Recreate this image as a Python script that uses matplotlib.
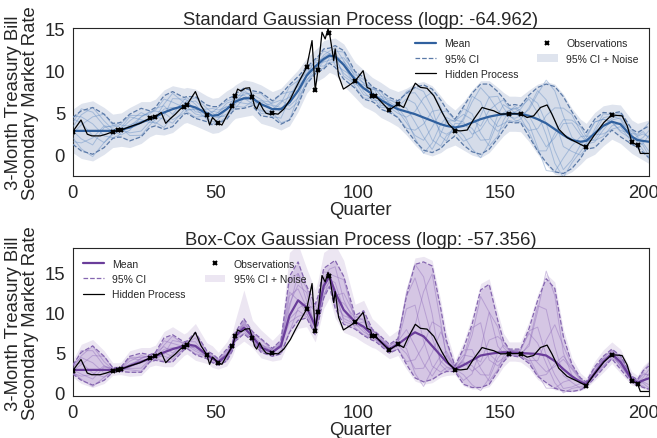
import numpy as np
import matplotlib
matplotlib.use("Agg")
import matplotlib.pyplot as plt
import seaborn as sns

knots = [0, 3, 7, 11, 14, 16, 17, 20, 24, 27, 29, 32, 35, 39, 40,
         43, 47, 49, 51, 54, 56, 57, 60, 63, 66, 70, 73, 76, 79, 82,
         85, 86, 88, 90, 92, 95, 99, 102, 105, 106, 108, 111, 114, 117, 120,
         123, 126, 129, 131, 134, 137, 140, 143, 146, 149, 151, 153, 155, 157, 160,
         163, 166, 169, 172, 175, 178, 180, 183, 186, 189, 192, 196, 198, 200, 202]

# observations
obs_x = [0, 14, 16, 17, 27, 29, 39, 40, 47, 51, 56, 57, 63, 70, 82, 85, 86, 90,
         99, 105, 106, 111, 114, 134, 153, 157, 180, 189, 196, 198]
obs_y = [2.7, 2.7, 2.85, 2.9, 4.3, 4.5, 5.7, 5.9, 4.7, 3.7, 5.8, 7.0, 6.8, 4.9,
         10.4, 7.7, 10.1, 14.5, 8.76, 7.0, 7.0, 5.3, 6.0, 2.84, 4.84, 4.84,
         0.84, 4.7, 1.44, 1.08]

# hidden process (traced)
hidden_x = [0, 2.9, 5.1, 6.7, 9.6, 11.7, 14, 16, 17, 20, 23.6, 27, 29, 31, 32.6,
            34, 36, 37.7, 39, 40, 43, 45, 47, 48, 49, 51, 52.3, 54, 56, 57,
            57.8, 59, 60.5, 62, 63, 63.7, 64.5, 65.5, 66.7, 67.8, 69, 70, 72, 74,
            76.3, 78, 79.8, 82, 83.9, 85, 86, 87.4, 88.5, 89.5, 90, 90.9, 91.5,
            92, 93.2, 94.9, 96.7, 99, 101.8, 103.2, 104.4, 105, 106, 107.8, 110,
            111, 114, 116, 117.8, 120.1, 121.9, 124.2, 126.6, 129.5, 131.8, 134,
            136, 138.3, 140.6, 143.5, 145.4, 147.6, 150, 153, 157, 159.3, 161.6,
            164, 166.3, 168, 170.4, 173.3, 176.8, 180, 182.7, 186.2, 189, 192.6,
            194.4, 196, 198, 199, 202]
hidden_y = [2.7, 4.1, 2.4, 2.2, 2.2, 2.4, 2.7, 2.85, 2.9, 3.3, 3.7, 4.3, 4.5, 5.0, 3.7,
            4.2, 4.8, 5.4, 5.7, 5.9, 7.5, 5.8, 4.7, 3.5, 4.4, 3.7, 3.5, 4.6, 5.8, 7.0,
            7.8, 7.56, 7.9, 7.96, 6.8, 5.8, 5.4, 6.2, 5.4, 4.9, 4.8, 4.9, 4.8, 5.4,
            6.6, 7.8, 9.0, 10.4, 13.6, 7.7, 10.1, 14.6, 13.8, 15.0, 14.5, 12.6, 11.2,
            12.6, 9.4, 7.8, 8.2, 8.76, 10.0, 8.0, 7.8, 7.0, 7.0, 6.4, 5.6,
            5.3, 6.0, 5.6, 7.0, 8.5, 8.0, 7.9, 7.0, 5.0, 3.6, 2.84,
            2.8, 2.9, 4.2, 5.6, 5.4, 5.2, 4.8, 4.84, 4.84, 4.4, 4.6,
            5.6, 5.9, 4.8, 3.0, 2.0, 1.4, 0.84, 2.2, 3.8, 4.7, 4.6,
            3.4, 1.44, 1.08, 0.1, 0.1]

# standard GP
std_mean = [2.8, 2.8, 2.8, 2.8, 2.8, 2.9, 2.95, 3.2, 3.8, 4.2, 4.5, 5.0, 5.4, 5.8, 5.9,
            5.6, 4.9, 4.6, 4.7, 5.4, 6.0, 6.3, 6.7, 6.7, 6.0, 5.4, 5.4, 6.2, 7.6, 9.4,
            10.5, 10.8, 11.4, 11.8, 11.7, 10.7, 8.9, 7.9, 7.2, 7.0, 6.5, 5.9, 5.4, 5.1, 4.8,
            4.4, 4.0, 3.6, 3.4, 3.2, 3.4, 3.8, 4.2, 4.5, 4.7, 4.8, 4.85, 4.85, 4.8, 4.6,
            4.2, 3.7, 3.0, 2.3, 1.7, 1.5, 1.6, 2.5, 3.4, 3.9, 3.6, 2.1, 1.7, 1.6, 1.5]
std_ci = [1.6, 2.4, 2.8, 2.0, 0.9, 0.85, 0.9, 1.6, 1.7, 1.0, 1.1, 2.0, 2.1, 1.0, 1.0,
          1.3, 1.0, 1.1, 1.0, 1.2, 0.9, 0.9, 1.2, 0.9, 1.4, 1.0, 1.8, 2.1, 1.7, 1.0,
          0.9, 0.9, 1.2, 0.9, 1.3, 1.7, 1.0, 1.3, 0.9, 0.9, 1.1, 0.9, 1.0, 2.2, 3.2,
          3.9, 3.8, 2.9, 2.0, 1.0, 2.3, 3.5, 4.2, 3.9, 2.8, 1.9, 1.0, 1.1, 1.0, 2.5,
          3.8, 4.7, 5.1, 4.6, 3.4, 2.0, 1.0, 1.7, 1.6, 1.0, 1.5, 0.9, 0.9, 1.4, 1.9]
std_noise = [2.6, 3.3, 3.6, 2.8, 2.0, 2.0, 2.0, 2.4, 2.5, 2.1, 2.1, 2.7, 2.8, 2.1, 2.1,
             2.2, 2.1, 2.1, 2.1, 2.2, 2.0, 2.0, 2.2, 2.0, 2.3, 2.1, 2.5, 2.8, 2.5, 2.1,
             2.0, 2.0, 2.2, 2.0, 2.2, 2.5, 2.1, 2.2, 2.0, 2.0, 2.1, 2.0, 2.1, 2.8, 3.7,
             4.3, 4.2, 3.4, 2.7, 2.1, 2.9, 3.9, 4.6, 4.3, 3.3, 2.6, 2.1, 2.1, 2.1, 3.1,
             4.2, 5.0, 5.4, 4.9, 3.8, 2.7, 2.1, 2.5, 2.4, 2.1, 2.3, 2.0, 2.0, 2.3, 2.6]

# Box-Cox GP
bc_mean = [2.8, 2.8, 2.8, 2.8, 2.8, 2.85, 2.9, 3.3, 3.8, 4.2, 4.5, 5.0, 5.4, 5.8, 6.0,
           5.8, 4.7, 4.2, 3.8, 4.6, 5.8, 7.0, 8.1, 7.0, 5.6, 5.0, 5.8, 9.6, 11.5, 10.6,
           8.3, 10.0, 13.3, 14.5, 12.5, 10.3, 8.8, 8.2, 7.2, 7.0, 6.3, 5.4, 6.0, 6.8, 7.5,
           7.0, 5.8, 4.6, 3.8, 2.9, 3.4, 4.0, 4.6, 4.8, 4.95, 5.0, 5.0, 4.95, 4.9, 4.85,
           4.8, 4.6, 3.9, 2.9, 2.0, 1.3, 1.0, 2.4, 3.8, 4.8, 3.8, 1.6, 1.2, 1.5, 1.75]
bc_ci_hi = [3.4, 5.0, 5.8, 4.5, 3.1, 3.1, 3.2, 4.5, 4.9, 4.7, 5.0, 6.8, 7.2, 6.3, 6.4,
            7.5, 5.2, 4.8, 4.2, 5.4, 6.3, 7.5, 9.2, 7.6, 6.7, 5.5, 6.5, 14.5, 16.3, 13.3,
            11.0, 12.0, 15.5, 16.0, 16.5, 14.5, 9.6, 10.2, 7.9, 7.6, 7.0, 6.0, 6.7, 12.0, 16.0,
            16.3, 15.8, 10.5, 6.5, 3.3, 5.5, 8.5, 12.8, 13.5, 9.0, 6.5, 5.4, 5.4, 5.4, 8.0,
            11.5, 14.2, 13.0, 7.0, 3.5, 1.8, 1.3, 3.2, 4.5, 5.4, 4.6, 2.0, 1.6, 2.7, 3.3]
bc_ci_lo = [2.3, 1.5, 0.9, 1.5, 2.5, 2.6, 2.6, 2.5, 2.5, 3.8, 4.0, 3.8, 3.8, 5.3, 5.5,
            4.7, 4.2, 3.7, 3.4, 3.9, 5.2, 6.4, 7.3, 6.4, 5.0, 4.5, 4.8, 7.5, 9.0, 9.3,
            7.2, 8.6, 11.8, 13.2, 10.5, 8.5, 7.9, 7.1, 6.5, 6.4, 5.8, 4.9, 5.4, 3.5, 1.8,
            1.3, 1.6, 2.3, 2.6, 2.6, 1.0, 0.6, 0.6, 1.0, 2.6, 3.8, 4.6, 4.5, 4.4, 3.6,
            2.0, 1.2, 0.5, 0.2, 0.1, 0.3, 0.7, 1.8, 3.0, 4.2, 2.9, 1.2, 0.9, 0.6, 0.4]
bc_noise_hi = [4.0, 6.0, 6.6, 5.2, 3.7, 3.7, 3.8, 5.2, 5.6, 5.6, 5.9, 7.6, 8.2, 7.3, 7.5,
               8.6, 6.2, 5.8, 5.0, 6.3, 7.6, 9.0, 12.8, 9.0, 7.8, 6.5, 7.6, 17.5, 18.5, 15.5,
               12.8, 14.0, 17.5, 18.0, 18.5, 16.5, 11.0, 11.5, 9.2, 8.9, 8.2, 7.0, 7.8, 13.0, 16.8,
               17.0, 16.5, 11.5, 7.5, 4.0, 6.3, 9.5, 13.6, 14.2, 10.0, 7.4, 6.3, 6.3, 6.3, 8.9,
               12.3, 14.8, 13.8, 7.9, 4.3, 2.4, 1.8, 3.9, 5.3, 6.3, 5.4, 2.6, 2.1, 3.3, 4.0]
bc_noise_lo = [1.9, 1.1, 0.6, 1.1, 2.1, 2.2, 2.2, 2.0, 2.1, 3.2, 3.4, 3.2, 3.2, 4.6, 4.8,
               4.0, 3.6, 3.1, 2.9, 3.3, 4.5, 5.6, 6.4, 5.6, 4.3, 3.9, 4.1, 6.6, 8.0, 8.2,
               6.3, 7.6, 10.5, 11.8, 9.3, 7.5, 6.9, 6.2, 5.6, 5.5, 5.0, 4.2, 4.6, 2.9, 1.4,
               1.0, 1.2, 1.9, 2.1, 2.2, 0.8, 0.4, 0.4, 0.7, 2.1, 3.2, 3.9, 3.9, 3.8, 3.0,
               1.6, 0.9, 0.3, 0.1, 0.05, 0.2, 0.5, 1.5, 2.5, 3.6, 2.4, 0.9, 0.7, 0.4, 0.3]

# posterior draws, as a fraction of the CI half-width at each knot
sample_z = [
    [0.3, 0.8, 1.0, 0.6, 0.2, 0.1, 0.0, -0.4, -0.6, -0.3, -0.1, 0.5, 0.9, 0.4, 0.3,
     0.6, 0.2, -0.1, -0.3, -0.5, -0.2, 0.1, 0.4, 0.7, 0.9, 0.5, 0.1, -0.4, -0.8, -0.6,
     -0.2, 0.1, 0.4, 0.6, 0.8, 0.3, -0.2, -0.6, -0.4, -0.1, 0.2, 0.6, 0.9, 1.0, 0.8,
     0.4, 0.1, -0.3, -0.5, -0.2, 0.3, 0.7, 0.9, 0.6, 0.2, -0.1, -0.3, -0.5, -0.2, 0.3,
     0.8, 1.1, 0.9, 0.5, 0.1, -0.2, -0.4, -0.6, -0.3, 0.2, 0.5, 0.2, -0.1, 0.3, 0.7],
    [-0.5, -0.9, -1.1, -0.7, -0.3, -0.2, 0.1, 0.5, 0.7, 0.3, 0.0, -0.4, -0.8, -0.5, -0.2,
     -0.6, -0.4, 0.0, 0.3, 0.6, 0.4, 0.0, -0.5, -0.8, -0.6, -0.2, 0.4, 0.9, 0.7, 0.3,
     0.0, -0.3, -0.7, -0.9, -0.5, 0.2, 0.6, 0.8, 0.4, 0.1, -0.3, -0.7, -1.0, -0.9, -0.6,
     -0.2, 0.3, 0.6, 0.4, 0.0, -0.5, -0.9, -1.1, -0.8, -0.3, 0.1, 0.4, 0.6, 0.2, -0.4,
     -0.9, -1.2, -1.0, -0.6, -0.2, 0.3, 0.6, 0.8, 0.5, 0.0, -0.6, -0.3, 0.2, -0.4, -0.9],
    [0.9, 0.4, -0.2, -0.7, -0.5, -0.2, 0.3, 0.8, 0.2, -0.4, -0.6, -0.9, -0.4, 0.2, 0.5,
     0.9, 0.6, 0.3, -0.2, -0.7, -0.4, 0.3, 0.8, 0.2, -0.5, -0.9, -0.6, 0.2, 0.7, 0.9,
     0.5, 0.2, -0.3, -0.6, -0.2, 0.5, 0.9, 0.4, -0.2, -0.5, -0.8, -0.4, 0.3, 0.7, 0.4,
     -0.1, -0.6, -0.9, -0.6, -0.3, 0.4, 0.9, 0.5, -0.2, -0.7, -0.8, -0.3, 0.2, 0.6, 0.9,
     0.5, 0.0, -0.5, -0.9, -0.7, -0.2, 0.3, 0.8, 0.5, -0.1, -0.5, 0.4, 0.8, 1.0, 1.2],
    [-0.2, 0.3, 0.6, 1.0, 0.8, 0.5, 0.2, -0.6, -0.9, -0.7, -0.3, 0.2, 0.1, -0.3, -0.6,
     -0.2, 0.5, 0.8, 0.6, 0.2, -0.3, -0.6, -0.9, -0.4, 0.3, 0.8, 1.0, 0.6, 0.0, -0.5,
     -0.8, -0.4, 0.2, 0.3, -0.2, -0.6, -0.3, 0.3, 0.7, 0.9, 0.5, -0.3, -0.5, -0.3, 0.1,
     0.6, 0.9, 0.7, 0.2, -0.4, -0.8, -0.5, 0.1, 0.6, 0.8, 0.4, -0.2, -0.7, -0.9, -0.7,
     -0.3, 0.2, 0.5, 0.7, 0.9, 0.6, 0.1, -0.5, -0.8, -0.5, 0.1, 0.7, 0.4, -0.2, -0.6],
    [0.0, -0.4, -0.6, 0.2, 0.7, 0.9, 0.6, 0.1, 0.4, 0.8, 0.6, 0.0, -0.6, -0.9, -0.6,
     -0.1, -0.7, -0.9, -0.5, 0.0, 0.5, 0.8, 0.3, -0.3, -0.8, -0.4, -0.9, -1.0, -0.4, 0.2,
     0.7, 0.5, 0.0, 0.2, 0.5, 0.9, 0.2, -0.3, -0.8, -0.6, -0.1, 0.4, 0.2, -0.4, -0.9,
     -1.1, -0.7, 0.0, 0.5, 0.7, 0.9, 0.3, -0.4, -0.9, -0.9, -0.4, 0.3, 0.8, 0.4, 0.0,
     -0.4, -0.6, -0.2, 0.3, 0.6, 0.4, -0.1, -0.4, 0.0, 0.4, 0.8, 0.3, -0.3, -0.8, -1.1],
    [0.6, 1.1, 0.8, 0.3, -0.1, -0.5, -0.7, -0.2, 0.4, 0.9, 0.7, 0.8, 0.4, -0.2, -0.8,
     -0.9, -0.3, 0.4, 0.9, 0.8, 0.7, 0.4, -0.1, 0.5, 0.4, 0.0, 0.5, 0.3, 0.4, 0.7,
     -0.5, -0.8, -0.9, -0.3, 0.3, 0.0, -0.8, -0.9, -0.6, -0.3, 0.4, 0.8, 0.5, 0.2, -0.3,
     -0.6, -0.9, -0.4, 0.3, 0.8, 0.6, 0.1, -0.2, 0.2, 0.5, 0.9, 0.7, 0.1, -0.4, -0.8,
     -1.0, -0.7, -0.1, 0.4, 0.7, 0.9, 0.5, -0.1, -0.6, -0.9, -0.2, -0.7, -0.9, -0.2, 0.4],
    [-0.8, -0.6, -0.3, 0.3, 0.5, 0.6, 0.8, 0.9, 0.5, 0.6, 0.9, 0.4, -0.3, 0.7, 0.9,
     0.3, -0.5, -0.6, -0.9, -0.8, -0.6, -0.4, 0.6, 0.3, -0.2, 0.7, 0.6, -0.2, -0.5, -0.9,
     -0.7, -0.6, -0.2, -0.1, 0.1, -0.8, -0.5, 0.0, 0.6, 0.8, 0.9, 0.2, -0.2, -0.6, -0.8,
     -0.7, -0.2, 0.5, 0.9, 0.9, 0.2, -0.4, -0.3, 0.0, -0.5, -0.6, -0.8, -0.9, -0.6, 0.4,
     0.9, 0.6, 0.2, -0.3, -0.4, -0.8, -0.9, 0.3, 0.9, 0.8, 0.9, 0.9, 0.6, 0.8, 0.2],
    [1.1, 0.7, 0.3, -0.3, -0.9, -0.8, -0.4, 0.2, 0.1, 0.0, -0.8, -0.2, 0.6, 0.8, 0.6,
     -0.4, 0.0, 0.5, 0.3, 0.3, -0.8, -0.9, 0.0, -0.7, 0.2, 0.4, -0.2, 0.5, 0.3, 0.0,
     0.9, 0.8, 0.8, 0.3, -0.8, -0.4, 0.3, 0.5, 0.9, 0.7, -0.6, -0.2, 0.6, 1.1, 1.0,
     0.8, 0.4, -0.5, -0.9, 0.5, 0.1, -0.2, -0.6, -0.7, 0.0, 0.6, 0.6, 0.5, 0.9, 0.8,
     0.2, -0.3, -0.8, -1.1, -0.8, -0.6, -0.3, 0.1, 0.6, 0.7, 0.4, -0.5, 0.5, 0.6, 0.3],
]

FS = 13.3


def draw_panel(ax, mean, lo, hi, nlo, nhi, pal, title, loc):
    x = np.array(knots)
    mean = np.array(mean)
    lo, hi = np.array(lo), np.array(hi)

    ax.fill_between(x, nlo, nhi, color=pal['noise'], lw=0, zorder=1,
                    label='95% CI + Noise')
    ax.fill_between(x, lo, hi, color=pal['ci_fill'], alpha=pal['ci_alpha'],
                    lw=0, zorder=2)
    for z in sample_z:
        z = np.array(z)
        s = np.where(z > 0, mean + z * (hi - mean), mean + z * (mean - lo))
        ax.plot(x, s, color=pal['sample'], lw=0.7, alpha=0.4, zorder=3)
    ax.plot(x, mean, color=pal['mean'], lw=1.6, zorder=5, label='Mean')
    ax.plot(x, lo, color=pal['ci'], lw=0.9, ls='--', zorder=4, label='95% CI')
    ax.plot(x, hi, color=pal['ci'], lw=0.9, ls='--', zorder=4)
    ax.plot(hidden_x, hidden_y, color='black', lw=0.9, zorder=6,
            label='Hidden Process')
    ax.plot(obs_x, obs_y, 'x', color='black', ms=3.5, mew=1.5, zorder=7,
            label='Observations')

    h, l = ax.get_legend_handles_labels()
    order = ['Mean', '95% CI', 'Hidden Process', 'Observations', '95% CI + Noise']
    hs = [h[l.index(k)] for k in order]
    ax.legend(hs, order, loc=loc, ncol=2, fontsize=7.5, frameon=False,
              columnspacing=1.8, handlelength=2.0, handletextpad=0.8,
              borderaxespad=0.6)

    ax.set_title(title, fontsize=FS, pad=3)
    ax.set_xlim(0, 202)
    ax.set_xticks([0, 50, 100, 150, 200])
    ax.set_xlabel('Quarter', fontsize=FS, labelpad=0)
    ax.set_ylabel('3-Month Treasury Bill\nSecondary Market Rate', fontsize=FS,
                  labelpad=4, linespacing=1.0)
    ax.tick_params(labelsize=FS, pad=2)


sns.set_style('white')
plt.rcParams['font.family'] = ['Liberation Sans', 'DejaVu Sans']

fig = plt.figure(figsize=(6.57, 4.39), dpi=100)
ax1 = fig.add_axes([0.1107, 0.5968, 0.877, 0.337])
ax2 = fig.add_axes([0.1107, 0.095, 0.877, 0.337])

blues = {'noise': '#dfe4ee', 'ci_fill': '#b8c6de', 'ci_alpha': 0.25,
         'sample': '#5a86c0', 'mean': '#30609e', 'ci': '#5b7aa8'}
purples = {'noise': '#ece6f2', 'ci_fill': '#c6b2db', 'ci_alpha': 0.6,
           'sample': '#8a66b8', 'mean': '#6a3d9a', 'ci': '#8566b0'}

draw_panel(ax1, std_mean,
           np.array(std_mean) - np.array(std_ci),
           np.array(std_mean) + np.array(std_ci),
           np.array(std_mean) - np.array(std_noise),
           np.array(std_mean) + np.array(std_noise),
           blues, 'Standard Gaussian Process (logp: -64.962)', 'upper right')
ax1.set_ylim(-2.6, 15.1)
ax1.set_yticks([0, 5, 10, 15])

draw_panel(ax2, bc_mean, bc_ci_lo, bc_ci_hi, bc_noise_lo, bc_noise_hi,
           purples, 'Box-Cox Gaussian Process (logp: -57.356)', 'upper left')
ax2.set_ylim(-0.5, 18.0)
ax2.set_yticks([0, 5, 10, 15])

fig.savefig('out.png', dpi=100)
